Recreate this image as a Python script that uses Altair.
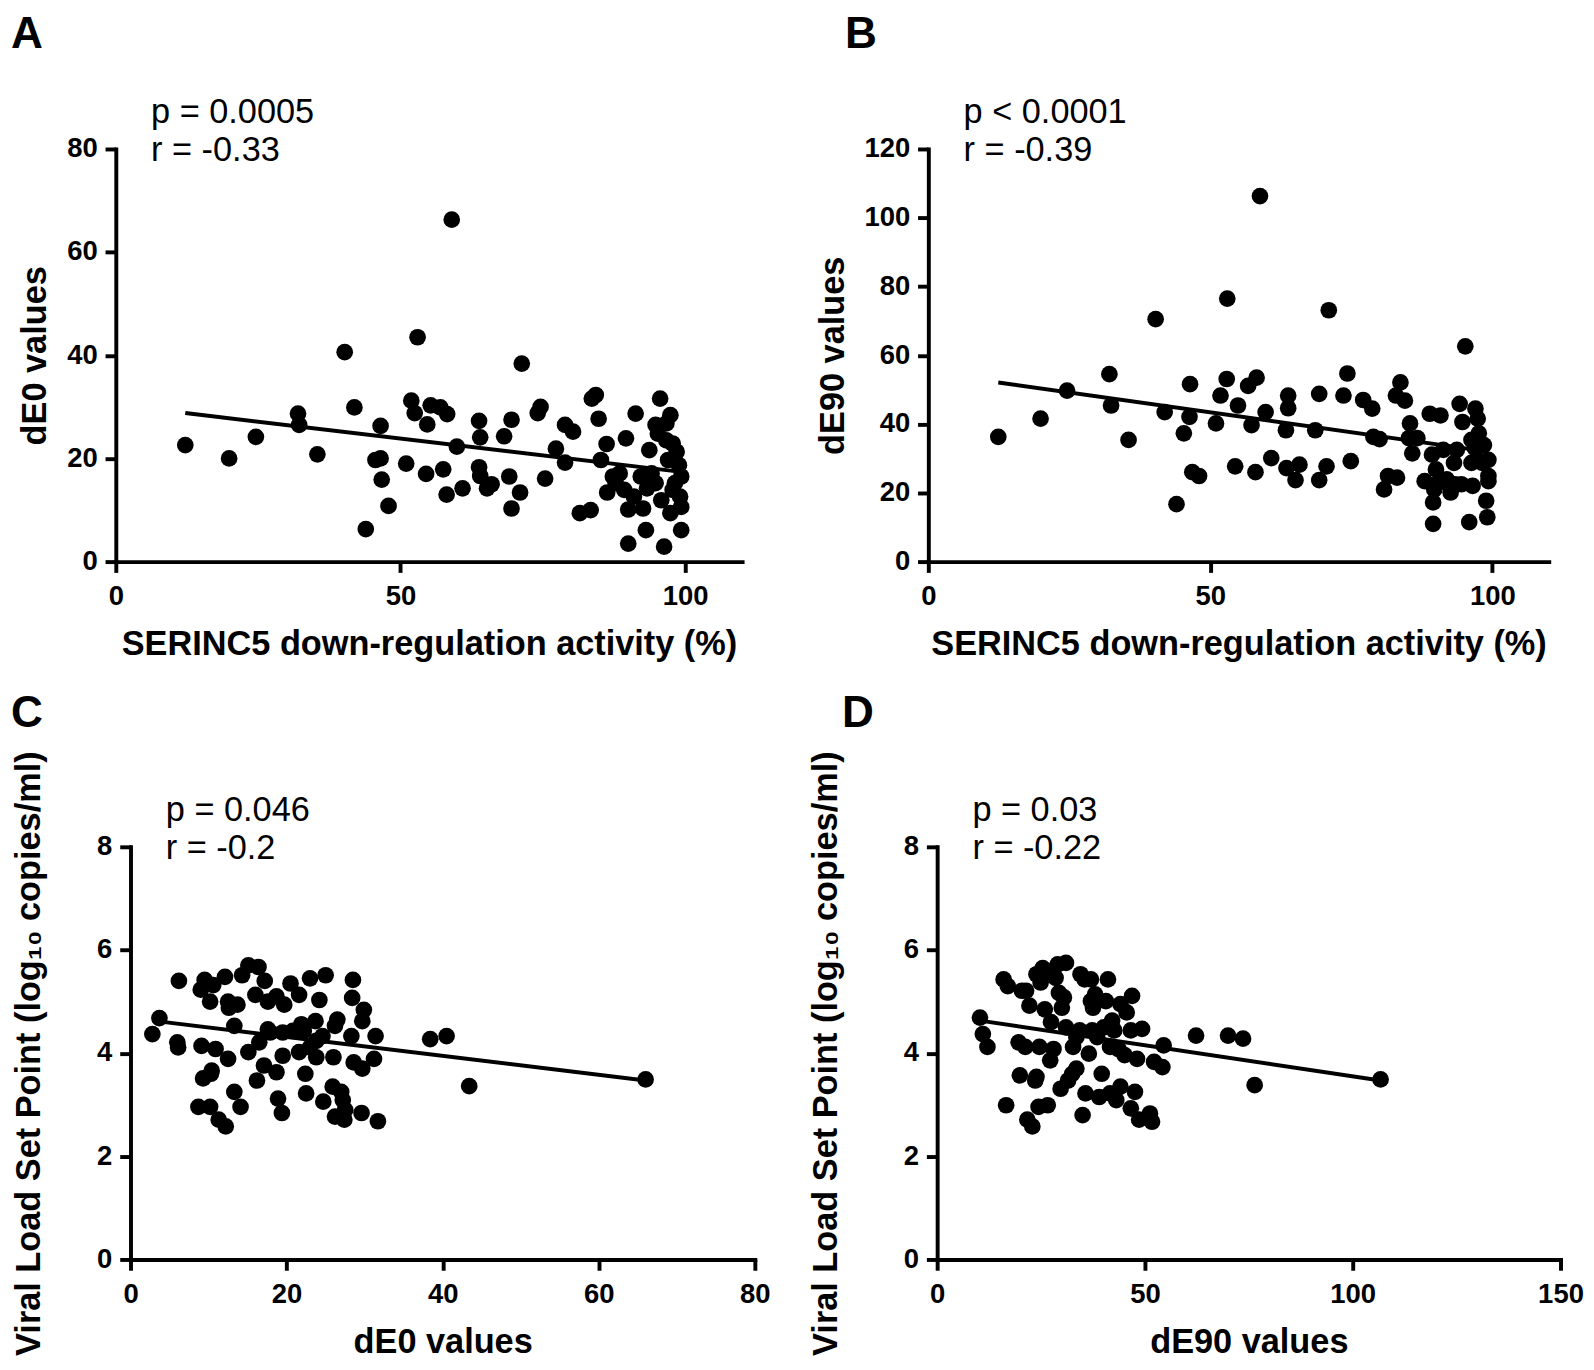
import altair as alt
import pandas as pd

FONT = "Liberation Sans"

# Panel A: SERINC5 down-regulation activity (%) vs dE0 values
a_x = [12.2, 19.9, 24.6, 32.0, 32.2, 35.4, 40.2, 41.9, 43.9, 45.6, 46.5, 46.5, 46.7, 47.9, 51.0, 51.9,
       53.0, 52.5, 54.5, 54.7, 55.3, 57.0, 57.5, 58.2, 58.1, 59.0, 59.9, 60.9, 63.8, 64.0, 63.8, 64.0,
       65.2, 66.0, 68.2, 69.5, 69.1, 69.5, 71.0, 71.3, 74.1, 74.6, 75.4, 77.3, 78.9, 80.3, 78.9, 81.5,
       83.4, 83.6, 84.3, 84.8, 85.2, 86.2, 86.3, 87.3, 88.5, 89.3, 89.6, 90.0, 90.0, 91.0, 91.3, 92.6,
       93.1, 93.3, 93.7, 94.1, 94.8, 95.2, 95.6, 95.8, 96.3, 96.7, 97.0, 97.4, 97.4, 97.8, 98.2, 98.5,
       98.9, 99.1, 99.3, 99.3, 99.3, 96.7, 97.8, 94.8, 92.2, 87.8]
a_y = [22.6, 20.0, 24.2, 28.7, 26.5, 20.8, 40.6, 29.9, 6.3, 19.7, 20.0, 26.3, 15.9, 10.8, 19.0, 31.2,
       43.5, 28.8, 17.0, 26.6, 30.3, 29.9, 17.9, 28.6, 13.0, 66.3, 22.3, 14.2, 27.3, 24.1, 18.3, 16.6,
       14.2, 15.0, 24.3, 27.5, 16.5, 10.3, 13.4, 38.4, 28.8, 30.0, 16.1, 21.9, 26.5, 25.2, 19.2, 9.4,
       10.0, 31.6, 32.3, 27.7, 19.7, 22.8, 13.4, 16.5, 17.1, 13.9, 23.9, 3.5, 10.1, 12.6, 28.7, 10.3,
       6.1, 14.2, 21.6, 17.1, 26.5, 24.8, 31.6, 11.9, 2.9, 23.5, 19.7, 28.4, 9.4, 22.9, 15.2, 21.3,
       18.7, 12.6, 10.6, 16.5, 6.1, 26.8, 13.9, 15.2, 16.5, 15.2]
a_fit_x = [12.2, 99.3]
a_fit_y = [28.8, 17.4]

# Panel B: SERINC5 down-regulation activity (%) vs dE90 values
b_x = [12.4, 19.9, 24.6, 32.1, 32.4, 35.5, 40.3, 41.9, 44.0, 45.3, 46.3, 46.4, 46.8, 48.0, 51.0, 51.8,
       52.9, 53.0, 54.4, 54.9, 56.7, 57.3, 58.0, 58.2, 58.8, 59.8, 60.8, 63.4, 63.8, 63.8, 63.5, 65.1,
       65.8, 68.6, 69.3, 69.3, 70.6, 71.0, 73.6, 74.3, 74.9, 77.1, 78.7, 78.9, 80.0, 80.8, 81.5, 83.1,
       82.9, 83.7, 84.5, 85.4, 85.2, 85.8, 86.7, 88.0, 88.9, 89.3, 89.5, 89.5, 89.7, 90.0, 90.8, 91.3,
       92.6, 93.2, 93.7, 94.2, 94.7, 94.5, 95.2, 95.9, 96.3, 96.5, 96.9, 97.0, 97.4, 97.6, 97.8, 98.2,
       98.5, 98.9, 99.1, 99.3, 99.3, 99.3, 96.3, 93.4, 91.9, 90.4]
b_y = [36.3, 41.6, 49.7, 54.5, 45.4, 35.4, 70.5, 43.5, 16.7, 37.3, 42.1, 51.6, 26.0, 24.9, 40.2, 48.3,
       53.1, 76.5, 27.7, 45.4, 51.1, 39.7, 26.0, 53.5, 106.3, 43.5, 30.1, 38.2, 48.3, 44.6, 27.2, 23.7,
       28.2, 38.2, 48.8, 23.7, 27.7, 73.1, 48.3, 54.7, 29.2, 47.0, 44.5, 36.3, 35.6, 21.0, 24.9, 24.4,
       48.3, 52.1, 46.8, 40.2, 35.9, 31.5, 35.9, 23.4, 43.0, 31.1, 17.2, 11.0, 21.0, 26.8, 42.5, 32.5,
       20.1, 28.7, 32.5, 45.9, 40.6, 22.5, 62.6, 11.5, 35.4, 22.0, 33.0, 44.5, 41.6, 37.3, 29.2, 28.7,
       33.9, 17.7, 12.9, 29.6, 24.9, 23.4, 28.7, 22.5, 23.9, 22.9]
b_fit_x = [12.4, 99.3]
b_fit_y = [52.1, 32.0]

# Panel C: dE0 values vs viral load set point
c_x = [2.8, 3.7, 6.0, 6.1, 6.2, 8.7, 9.1, 9.0, 9.5, 9.3, 10.2, 10.2, 10.3, 10.6, 10.9, 11.3, 12.1, 12.2,
       12.5, 12.6, 13.3, 13.3, 13.7, 14.1, 14.3, 15.1, 15.1, 16.0, 16.4, 16.2, 16.5, 17.1, 17.2, 17.6,
       17.9, 18.7, 18.7, 18.9, 19.4, 19.5, 19.5, 19.7, 20.5, 20.8, 21.6, 21.6, 22.4, 22.5, 22.2, 23.0,
       23.0, 23.7, 23.8, 24.2, 24.6, 24.7, 25.0, 25.9, 26.0, 26.2, 26.5, 26.2, 27.0, 27.2, 27.4, 27.5,
       28.3, 28.4, 28.5, 28.6, 29.6, 29.7, 29.7, 29.9, 31.2, 31.4, 31.7, 38.4, 40.5, 43.4, 66.0, 10.4,
       23.8, 17.6, 21.9, 12.5]
c_y = [4.37, 4.68, 4.21, 4.11, 5.40, 2.96, 4.14, 5.23, 5.42, 3.51, 2.96, 5.00, 3.60, 5.32, 4.08, 2.71,
       5.48, 2.58, 3.89, 4.88, 3.25, 4.53, 4.94, 2.96, 5.51, 4.02, 5.70, 5.13, 5.67, 3.47, 4.21, 3.76,
       5.40, 5.00, 4.40, 5.10, 3.63, 3.12, 2.84, 3.95, 4.40, 4.94, 5.35, 4.43, 5.13, 4.02, 3.60, 3.22,
       4.43, 5.45, 4.11, 4.62, 4.24, 5.03, 4.33, 3.06, 5.51, 3.35, 3.92, 4.53, 4.65, 2.77, 3.25, 3.09,
       2.71, 2.90, 4.33, 5.07, 5.42, 3.82, 2.84, 4.62, 3.70, 4.84, 3.89, 4.33, 2.68, 4.27, 4.33, 3.36,
       3.49, 3.66, 3.92, 4.46, 4.56, 5.00]
c_fit_x = [2.8, 66.0]
c_fit_y = [4.63, 3.47]

# Panel D: dE90 values vs viral load set point
d_x = [10.3, 11.0, 12.1, 16.0, 17.0, 16.6, 19.6, 19.9, 21.2, 21.4, 21.7, 22.2, 22.9, 23.6, 23.9, 23.9,
       24.4, 24.6, 24.9, 25.9, 26.6, 26.4, 27.2, 27.4, 28.0, 28.5, 29.0, 29.3, 29.7, 30.0, 31.0, 31.0,
       31.5, 32.5, 32.7, 33.5, 34.3, 34.5, 35.0, 35.5, 35.7, 36.5, 37.0, 37.3, 37.5, 38.0, 38.5, 39.0,
       39.6, 40.1, 40.6, 41.1, 41.6, 41.6, 42.1, 43.1, 43.6, 44.1, 44.1, 45.1, 45.6, 46.6, 46.9, 47.6,
       48.1, 48.6, 49.3, 51.2, 51.7, 52.2, 54.2, 54.5, 62.3, 70.0, 73.6, 76.4, 106.7, 20.4, 30.5, 42.6,
       33.5, 46.6, 25.4, 37.0]
d_y = [4.69, 4.37, 4.12, 5.43, 5.30, 2.99, 4.21, 3.57, 4.12, 5.21, 2.71, 4.92, 2.58, 3.47, 3.54, 5.53,
       2.96, 4.12, 5.37, 4.85, 2.99, 5.59, 3.86, 4.60, 4.08, 5.46, 5.72, 5.17, 3.31, 4.88, 5.75, 4.50,
       3.47, 3.60, 4.12, 3.70, 4.44, 5.53, 2.80, 5.43, 3.22, 3.99, 5.43, 4.44, 4.88, 5.14, 4.31, 3.15,
       3.60, 4.50, 5.01, 5.43, 3.22, 4.12, 4.63, 3.09, 4.08, 4.95, 3.35, 3.96, 4.79, 2.93, 5.11, 3.25,
       3.89, 2.71, 4.47, 2.83, 2.67, 3.83, 3.73, 4.15, 4.34, 4.34, 4.28, 3.38, 3.49, 5.21, 5.08, 4.44,
       4.31, 4.44, 5.65, 5.01]
d_fit_x = [10.3, 106.7]
d_fit_y = [4.63, 3.47]

X_TITLE_AB = "SERINC5 down-regulation activity (%)"
Y_TITLE_CD = "Viral Load Set Point (log\u2081\u2080 copies/ml)"

H = 421


def panel(xs, ys, fx, fy, xdom, xticks, ydom, yticks, xtitle, ytitle, letter, p_txt, r_txt,
          ytpad, letter_left, letter_up, w):
    pts = pd.DataFrame({"x": xs, "y": ys})
    fit = pd.DataFrame({"x": fx, "y": fy})
    xspan = xdom[1] - xdom[0]
    yspan = ydom[1] - ydom[0]
    ax_x = xspan * 36.0 / w
    ann = pd.DataFrame({
        "x": [ax_x, ax_x],
        "y": [ydom[1] + yspan * 37.0 / H, ydom[1] - yspan * 1.0 / H],
        "t": [p_txt, r_txt],
    })
    lab = pd.DataFrame({
        "x": [-xspan * letter_left / w],
        "y": [ydom[1] + yspan * letter_up / H],
        "t": [letter],
    })
    common = dict(grid=False, domainColor="black", domainWidth=4, tickColor="black",
                  tickWidth=4, tickSize=11, labelFont=FONT, labelFontSize=28,
                  labelFontWeight="bold", labelColor="black", titleFont=FONT, titleFontSize=35,
                  titleFontWeight="bold", titleColor="black", labelOverlap=False, labelFlush=False,
                  domainCap="square")
    ex = alt.X("x:Q", scale=alt.Scale(domain=xdom, nice=False, zero=False),
               axis=alt.Axis(values=xticks, title=xtitle, labelPadding=11, titlePadding=17, **common))
    ey = alt.Y("y:Q", scale=alt.Scale(domain=ydom, nice=False, zero=False),
               axis=alt.Axis(values=yticks, title=ytitle, labelPadding=8, titlePadding=ytpad, **common))
    points = alt.Chart(pts).mark_circle(size=290, color="black", opacity=1).encode(x=ex, y=ey)
    line = alt.Chart(fit).mark_line(color="black", strokeWidth=4).encode(x=ex, y=ey)
    text = alt.Chart(ann).mark_text(align="left", baseline="middle", font=FONT, fontSize=35,
                                    color="black").encode(x=ex, y=ey, text="t:N")
    letter_mark = alt.Chart(lab).mark_text(align="left", baseline="top", font=FONT,
                                           fontSize=45, fontWeight="bold", color="black").encode(
        x=ex, y=ey, text="t:N")
    return alt.layer(points, line, text, letter_mark).properties(width=w, height=H)


pa = panel(a_x, a_y, a_fit_x, a_fit_y, [0, 110], [0, 50, 100], [0, 80], [0, 20, 40, 60, 80],
           X_TITLE_AB, "dE0 values", "A", "p = 0.0005", "r = -0.33", 15, 107, 139, 639)
pb = panel(b_x, b_y, b_fit_x, b_fit_y, [0, 110], [0, 50, 100], [0, 120], [0, 20, 40, 60, 80, 100, 120],
           X_TITLE_AB, "dE90 values", "B", "p < 0.0001", "r = -0.39", 14, 85, 139, 633)
pc = panel(c_x, c_y, c_fit_x, c_fit_y, [0, 80], [0, 20, 40, 60, 80], [0, 8], [0, 2, 4, 6, 8],
           "dE0 values", Y_TITLE_CD, "C", "p = 0.046", "r = -0.2", 51, 122, 158, 637)
pd_ = panel(d_x, d_y, d_fit_x, d_fit_y, [0, 150], [0, 50, 100, 150], [0, 8], [0, 2, 4, 6, 8],
            "dE90 values", Y_TITLE_CD, "D", "p = 0.03", "r = -0.22", 61, 97, 158, 636)

# invisible 1px spacer: shifts the lower row 15px to the right, as in the reference
spacer = alt.Chart(pd.DataFrame({"v": [0]})).mark_point(opacity=0).encode(
    x=alt.value(0), y=alt.value(0)).properties(width=1, height=1)

row1 = alt.hconcat(pa, pb, spacing=190, bounds="flush")
row2 = alt.hconcat(spacer, alt.hconcat(pc, pd_, spacing=186, bounds="flush"),
                   spacing=14, bounds="flush")

chart = alt.vconcat(row1, row2, spacing=31).properties(
    padding={"left": 3, "top": -9, "right": 2, "bottom": 0},
    background="white",
).configure_view(strokeWidth=0, stroke="transparent")

chart.save("out.html", embed_options={"renderer": "svg", "actions": False})
